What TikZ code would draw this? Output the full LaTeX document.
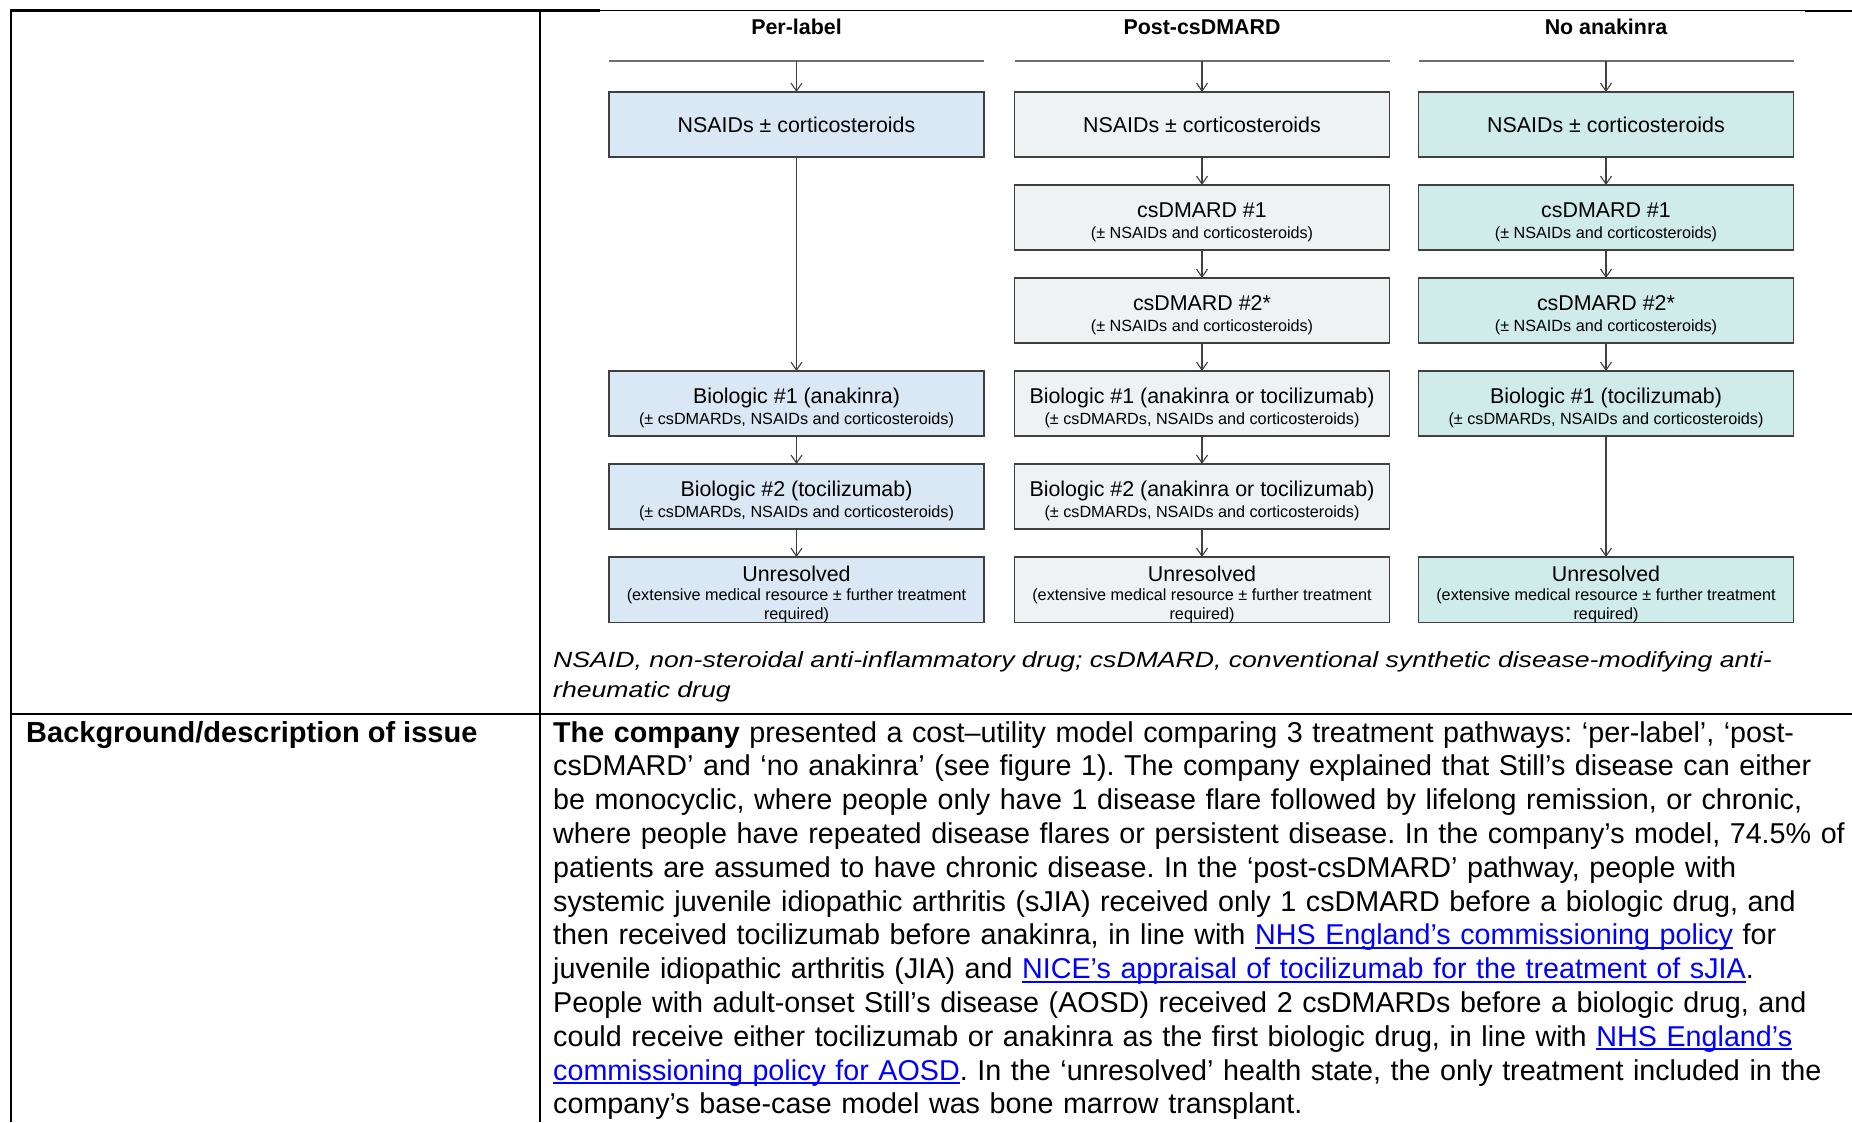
\documentclass[tikz,border=0pt]{standalone}
\usepackage{fontspec}
\setmainfont{Liberation Sans}
\newfontfamily\keyfont[FakeStretch=1.21]{Liberation Sans}
\usepackage{xcolor}
\usetikzlibrary{arrows.meta, positioning}
\definecolor{pathblue}{RGB}{218, 231, 244}
\definecolor{pathgray}{RGB}{239, 242, 242}
\definecolor{pathteal}{RGB}{208, 236, 234}
\definecolor{boxedge}{RGB}{64, 64, 64}
\definecolor{rulegray}{RGB}{110, 110, 110}
\definecolor{linkblue}{RGB}{0, 0, 255}
\newcommand{\weblink}[1]{\textcolor{linkblue}{\setbox0\hbox{#1}\rlap{\rule[-4pt]{\wd0}{1.8pt}}\box0}}
\newcommand{\subtxt}[1]{{\fontsize{16.2}{19}\selectfont #1}}
\newcommand{\tstrut}{\rule{0pt}{24pt}}
\frenchspacing

\begin{document}
\begin{tikzpicture}[
  x=1pt, y=-1pt,
  node distance = 28pt and 0pt,
  stage/.style = {rectangle, draw=boxedge, line width=1.4pt, minimum width=375pt,
                  minimum height=65pt, text width=370pt, inner sep=0pt, outer sep=0pt,
                  align=flush center, font=\fontsize{21.4}{21}\selectfont},
  arrow/.style = {-{Straight Barb[length=8pt, width=11pt]}, line width=1.1pt, color=boxedge},
  bar/.style = {line width=1.6pt, color=rulegray},
  head/.style = {font=\bfseries\fontsize{21.4}{24}\selectfont},
  grid/.style = {line width=2.2pt, color=black}
]

\fill[white] (0,0) rectangle (1852,1122);
\useasboundingbox (0,0) rectangle (1852,1122);

% table rules
\draw[grid] (10,10.5) -- (600,10.5);
\draw[line width=1.2pt] (600,10.5) -- (1805,10.5);
\draw[grid] (1805,11) -- (1852,11);
\draw[grid] (11,10) -- (11,1122);
\draw[grid] (540,10) -- (540,1122);
\draw[grid] (10,714) -- (1852,714);

% pathway headings
\node[head] (plh) at (796.5,27) {Per-label};
\node[head] (pdh) at (1202,27)  {Post-csDMARD};
\node[head] (nah) at (1606,27)  {No anakinra};

% per-label
\node[stage, fill=pathblue] (pl1) at (796.5,124.5) {NSAIDs ± corticosteroids};
\node[stage, fill=pathblue, below=214pt of pl1] (pl4) {\tstrut Biologic \#1 (anakinra)\\\subtxt{(± csDMARDs, NSAIDs and corticosteroids)}};
\node[stage, fill=pathblue, below=of pl4] (pl5) {\tstrut Biologic \#2 (tocilizumab)\\\subtxt{(± csDMARDs, NSAIDs and corticosteroids)}};
\node[stage, fill=pathblue, below=of pl5] (pl6) {\tstrut Unresolved\\\subtxt{(extensive medical resource ± further treatment\\[-2pt]required)}};

% post-csDMARD
\node[stage, fill=pathgray] (pd1) at (1202,124.5) {NSAIDs ± corticosteroids};
\node[stage, fill=pathgray, below=of pd1] (pd2) {\tstrut csDMARD \#1\\\subtxt{(± NSAIDs and corticosteroids)}};
\node[stage, fill=pathgray, below=of pd2] (pd3) {\tstrut csDMARD \#2*\\\subtxt{(± NSAIDs and corticosteroids)}};
\node[stage, fill=pathgray, below=of pd3] (pd4) {\tstrut Biologic \#1 (anakinra or tocilizumab)\\\subtxt{(± csDMARDs, NSAIDs and corticosteroids)}};
\node[stage, fill=pathgray, below=of pd4] (pd5) {\tstrut Biologic \#2 (anakinra or tocilizumab)\\\subtxt{(± csDMARDs, NSAIDs and corticosteroids)}};
\node[stage, fill=pathgray, below=of pd5] (pd6) {\tstrut Unresolved\\\subtxt{(extensive medical resource ± further treatment\\[-2pt]required)}};

% no anakinra
\node[stage, fill=pathteal] (na1) at (1606,124.5) {NSAIDs ± corticosteroids};
\node[stage, fill=pathteal, below=of na1] (na2) {\tstrut csDMARD \#1\\\subtxt{(± NSAIDs and corticosteroids)}};
\node[stage, fill=pathteal, below=of na2] (na3) {\tstrut csDMARD \#2*\\\subtxt{(± NSAIDs and corticosteroids)}};
\node[stage, fill=pathteal, below=of na3] (na4) {\tstrut Biologic \#1 (tocilizumab)\\\subtxt{(± csDMARDs, NSAIDs and corticosteroids)}};
\node[stage, fill=pathteal, below=121pt of na4] (na6) {\tstrut Unresolved\\\subtxt{(extensive medical resource ± further treatment\\[-2pt]required)}};

% bars under the headings
\coordinate (plt) at (796.5,61);
\coordinate (pdt) at (1202,61);
\coordinate (nat) at (1606,61);
\draw[bar] (pl1.west |- plt) -- (pl1.east |- plt);
\draw[bar] (pd1.west |- pdt) -- (pd1.east |- pdt);
\draw[bar] (na1.west |- nat) -- (na1.east |- nat);

\draw[arrow] (plt) -- (pl1);
\draw[arrow] (pl1) -- (pl4);
\draw[arrow] (pl4) -- (pl5);
\draw[arrow] (pl5) -- (pl6);

\draw[arrow] (pdt) -- (pd1);
\draw[arrow] (pd1) -- (pd2);
\draw[arrow] (pd2) -- (pd3);
\draw[arrow] (pd3) -- (pd4);
\draw[arrow] (pd4) -- (pd5);
\draw[arrow] (pd5) -- (pd6);

\draw[arrow] (nat) -- (na1);
\draw[arrow] (na1) -- (na2);
\draw[arrow] (na2) -- (na3);
\draw[arrow] (na3) -- (na4);
\draw[arrow] (na4) -- (na6);

% key under the figure
\node[anchor=north west, inner sep=0pt, text width=1290pt, align=left,
      font=\keyfont\itshape\fontsize{22}{30}\selectfont] (key) at (553,651)
  {NSAID, non-steroidal anti-inflammatory drug; csDMARD, conventional synthetic disease-modifying anti-\\rheumatic drug};

% second row of the table
\node[anchor=base west, inner sep=0pt, font=\bfseries\fontsize{29}{34}\selectfont] (issue) at (26,742)
  {Background/description of issue};
\node[anchor=north west, inner sep=0pt, text width=1500pt, align=left,
      font=\fontsize{28.7}{33.8}\selectfont] (body) at (553,721)
  {\textbf{The company} presented a cost–utility model comparing 3 treatment pathways: ‘per-label’, ‘post-\\
   csDMARD’ and ‘no anakinra’ (see figure 1). The company explained that Still’s disease can either\\
   be monocyclic, where people only have 1 disease flare followed by lifelong remission, or chronic,\\
   where people have repeated disease flares or persistent disease. In the company’s model, 74.5\% of\\
   patients are assumed to have chronic disease. In the ‘post-csDMARD’ pathway, people with\\
   systemic juvenile idiopathic arthritis (sJIA) received only 1 csDMARD before a biologic drug, and\\
   then received tocilizumab before anakinra, in line with \weblink{NHS England’s commissioning policy} for\\
   juvenile idiopathic arthritis (JIA) and \weblink{NICE’s appraisal of tocilizumab for the treatment of sJIA}.\\
   People with adult-onset Still’s disease (AOSD) received 2 csDMARDs before a biologic drug, and\\
   could receive either tocilizumab or anakinra as the first biologic drug, in line with \weblink{NHS England’s}\\
   \weblink{commissioning policy for AOSD}. In the ‘unresolved’ health state, the only treatment included in the\\
   company’s base-case model was bone marrow transplant.};

\end{tikzpicture}
\end{document}
